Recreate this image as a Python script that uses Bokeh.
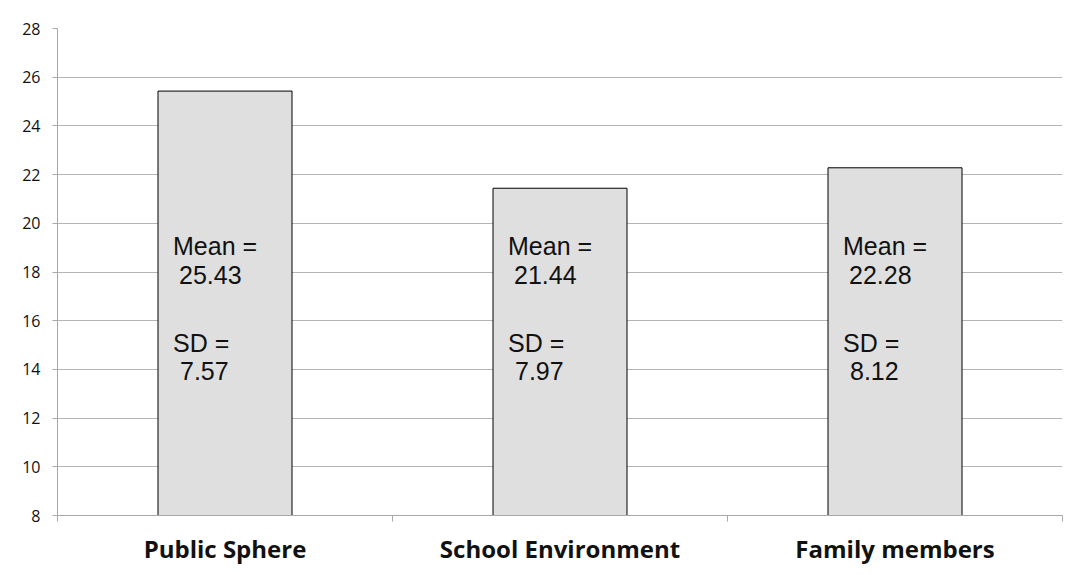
from bokeh.plotting import figure
from bokeh.models import Range1d, FixedTicker, ColumnDataSource
from bokeh.core.properties import value
from bokeh.embed import file_html
from bokeh.resources import INLINE
import numpy as np

categories = ["Public Sphere", "School Environment", "Family members"]
means = [25.43, 21.44, 22.28]
sds = [7.57, 7.97, 8.12]
y_ticks = [8, 10, 12, 14, 16, 18, 20, 22, 24, 26, 28]

centers = np.arange(len(categories)) + 0.5
source = ColumnDataSource(dict(x=centers, top=means, cat=categories))

p = figure(width=1069, height=567, output_backend="svg", toolbar_location=None,
           x_range=Range1d(0, len(categories)), y_range=Range1d(8, 28),
           min_border_left=57, min_border_right=7, min_border_top=28, min_border_bottom=52)
p.outline_line_color = None
p.xgrid.grid_line_color = None
p.ygrid.grid_line_color = "#b5b5b5"
p.ygrid.grid_line_width = 1
p.ygrid.ticker = FixedTicker(ticks=y_ticks)

p.vbar(x="x", top="top", bottom=8, width=0.4, source=source,
       fill_color="#dfdfdf", line_color="black", line_width=1)

# y axis
p.yaxis.ticker = FixedTicker(ticks=y_ticks)
p.yaxis.axis_line_color = "#a8a8a8"
p.yaxis.major_tick_line_color = "#a8a8a8"
p.yaxis.major_tick_out = 5
p.yaxis.major_tick_in = 0
p.yaxis.minor_tick_line_color = None
p.yaxis.major_label_text_font = "Open Sans"
p.yaxis.major_label_text_font_size = "16px"
p.yaxis.major_label_text_color = "#111111"
p.yaxis.major_label_standoff = 12

# x axis
p.xaxis.ticker = FixedTicker(ticks=list(centers), minor_ticks=list(range(len(categories) + 1)))
p.xaxis.major_label_overrides = {float(c): n for c, n in zip(centers, categories)}
p.xaxis.axis_line_color = "#a8a8a8"
p.xaxis.major_tick_line_color = None
p.xaxis.major_tick_out = 0
p.xaxis.major_tick_in = 0
p.xaxis.minor_tick_line_color = "#a8a8a8"
p.xaxis.minor_tick_out = 6
p.xaxis.minor_tick_in = 0
p.xaxis.major_label_text_font = "Open Sans"
p.xaxis.major_label_text_font_style = "bold"
p.xaxis.major_label_text_font_size = "24px"
p.xaxis.major_label_text_color = "#111111"
p.xaxis.major_label_standoff = 10

# annotations inside bars
n = len(categories)
font = value("Liberation Sans")
for yv, txt, dx in [(19.05, ["Mean ="] * n, -52),
                    (17.86, [f"{m:.2f}" for m in means], -46),
                    (15.1, ["SD ="] * n, -52),
                    (13.95, [f"{s:.2f}" for s in sds], -45)]:
    p.text(x=centers, y=[yv] * n, text=txt, x_offset=dx,
           text_font=font, text_font_size="25px",
           text_baseline="middle", text_align="left", text_color="#111111")

open("out.html", "w").write(file_html(p, INLINE))
